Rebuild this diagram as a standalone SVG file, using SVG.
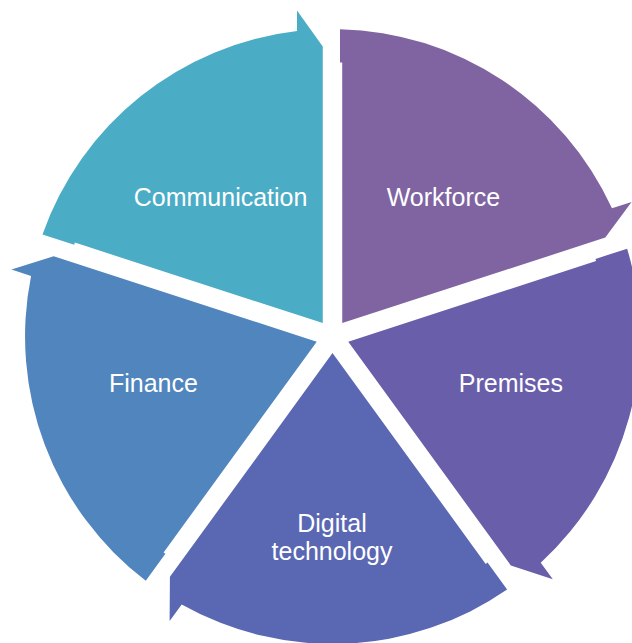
<svg xmlns="http://www.w3.org/2000/svg" xmlns:xlink="http://www.w3.org/1999/xlink" width="632" height="643" viewBox="0 0 632 643">
  <style>
    .lbl { font-family: "Liberation Sans", Arial, sans-serif; font-size: 25px; fill: #ffffff; text-anchor: middle; }
  </style>
  <defs>
    <path id="seg" d="M -9.75,-13.42 L -9.75,-290 L -35.5,-326 L -35.5,-305.4 A 307.5 307.5 0 0 0 -290.0,-102.1 L -258.3,-91.8 L -257.6,-93.9 Z"/>
  </defs>
  <rect width="632" height="643" fill="#ffffff"/>
  <g id="communication">
    <use href="#seg" xlink:href="#seg" transform="translate(332.5 336.5)" fill="#4BACC6"/>
    <text class="lbl" x="220.6" y="206">Communication</text>
  </g>
  <g id="workforce">
    <use href="#seg" xlink:href="#seg" transform="translate(332.5 336.5) rotate(72)" fill="#8064A2"/>
    <text class="lbl" x="443.4" y="206">Workforce</text>
  </g>
  <g id="premises">
    <use href="#seg" xlink:href="#seg" transform="translate(332.5 336.5) rotate(144)" fill="#695EAA"/>
    <text class="lbl" x="510.9" y="392">Premises</text>
  </g>
  <g id="digital">
    <use href="#seg" xlink:href="#seg" transform="translate(332.5 336.5) rotate(216)" fill="#5A67B3"/>
    <text class="lbl" x="332" y="532">Digital</text>
    <text class="lbl" x="332" y="560">technology</text>
  </g>
  <g id="finance">
    <use href="#seg" xlink:href="#seg" transform="translate(332.5 336.5) rotate(288)" fill="#5085BE"/>
    <text class="lbl" x="153.4" y="392">Finance</text>
  </g>
  <g id="connectors"></g>
</svg>
